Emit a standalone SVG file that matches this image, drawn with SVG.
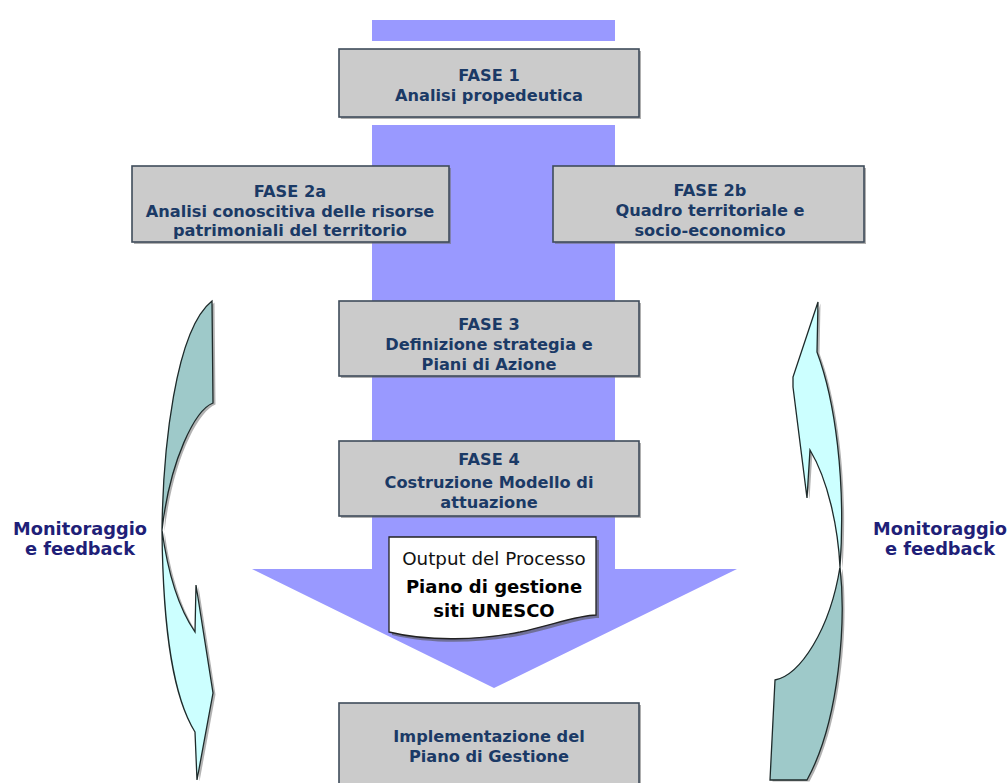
<svg xmlns="http://www.w3.org/2000/svg" width="1008" height="783" viewBox="0 0 1008 783">
<style>
.box{fill:#cbcbcb;stroke:#3f4c5a;stroke-width:1.6}
.sh{fill:#6d6d6d;opacity:.55}
.bt{font-family:"DejaVu Sans",Verdana,sans-serif;font-weight:bold;font-size:16.2px;fill:#1b3a66;text-anchor:middle}
.mon{font-family:"DejaVu Sans",Verdana,sans-serif;font-weight:bold;font-size:17.8px;fill:#1f1f78;text-anchor:middle}
.flow{fill:#9999ff}
.dark{fill:#9ec9c9;stroke:#1e2a2a;stroke-width:1.3}
.light{fill:#ccffff;stroke:#1e2a2a;stroke-width:1.3}
.ash{fill:#555;opacity:.45}
</style>
<rect width="1008" height="783" fill="#ffffff"/>
<g id="connectors">
  <rect class="flow" x="372" y="20" width="243" height="21"/>
  <path class="flow" d="M372,125 H615 V569 H737 L494,688 L252,569 H372 Z"/>
  <g id="loop-left">
    <path class="ash" transform="translate(2.5,1.5)" d="M212,301 L213,403 C195,410 170,460 162,530 C163,450 175,330 212,301 Z"/>
    <path class="ash" transform="translate(2.5,1.5)" d="M162,530 C168,575 180,610 195,632 L196,585 L213,693 L197,780 L195,732 C175,700 163,640 162,530 Z"/>
    <path class="dark" d="M212,301 L213,403 C195,410 170,460 162,530 C163,450 175,330 212,301 Z"/>
    <path class="light" d="M162,530 C168,575 180,610 195,632 L196,585 L213,693 L197,780 L195,732 C175,700 163,640 162,530 Z"/>
  </g>
  <g id="loop-right">
    <path class="ash" transform="translate(2.5,1.5)" d="M840,567 C846,620 840,720 807,780 L770,780 L775,680 C800,675 830,630 840,567 Z"/>
    <path class="ash" transform="translate(2.5,1.5)" d="M818,302 L817,352 C835,400 846,480 840,567 C838,527 828,480 810,450 L807,498 L793,387 L793,377 Z"/>
    <path class="dark" d="M840,567 C846,620 840,720 807,780 L770,780 L775,680 C800,675 830,630 840,567 Z"/>
    <path class="light" d="M818,302 L817,352 C835,400 846,480 840,567 C838,527 828,480 810,450 L807,498 L793,387 L793,377 Z"/>
  </g>
</g>
<g id="fase1">
  <rect class="sh" x="341" y="51" width="300" height="68"/>
  <rect class="box" x="339" y="49" width="300" height="68"/>
  <text class="bt" x="489" y="81">FASE 1</text>
  <text class="bt" x="489" y="101">Analisi propedeutica</text>
</g>
<g id="fase2a">
  <rect class="sh" x="134" y="168" width="317" height="76"/>
  <rect class="box" x="132" y="166" width="317" height="76"/>
  <text class="bt" x="290" y="197">FASE 2a</text>
  <text class="bt" x="290" y="217">Analisi conoscitiva delle risorse</text>
  <text class="bt" x="290" y="236">patrimoniali del territorio</text>
</g>
<g id="fase2b">
  <rect class="sh" x="555" y="168" width="311" height="76"/>
  <rect class="box" x="553" y="166" width="311" height="76"/>
  <text class="bt" x="710" y="196">FASE 2b</text>
  <text class="bt" x="710" y="216">Quadro territoriale e</text>
  <text class="bt" x="710" y="236">socio-economico</text>
</g>
<g id="fase3">
  <rect class="sh" x="341" y="303" width="300" height="75"/>
  <rect class="box" x="339" y="301" width="300" height="75"/>
  <text class="bt" x="489" y="330">FASE 3</text>
  <text class="bt" x="489" y="350">Definizione strategia e</text>
  <text class="bt" x="489" y="370">Piani di Azione</text>
</g>
<g id="fase4">
  <rect class="sh" x="341" y="443" width="300" height="75"/>
  <rect class="box" x="339" y="441" width="300" height="75"/>
  <text class="bt" x="489" y="465">FASE 4</text>
  <text class="bt" x="489" y="488">Costruzione Modello di</text>
  <text class="bt" x="489" y="508">attuazione</text>
</g>
<g id="output">
  <path fill="#555" opacity=".6" transform="translate(3,3)" d="M389,537 H596 V615 C580,615 555,624 520,632 C480,640 430,642 389,632 Z"/>
  <path fill="#ffffff" stroke="#222" stroke-width="1.3" d="M389,537 H596 V615 C580,615 555,624 520,632 C480,640 430,642 389,632 Z"/>
  <text x="494" y="565" font-family="DejaVu Sans,Verdana,sans-serif" font-size="18.3px" fill="#111" text-anchor="middle">Output del Processo</text>
  <text x="494" y="593" font-family="DejaVu Sans,Verdana,sans-serif" font-weight="bold" font-size="18px" fill="#000" text-anchor="middle">Piano di gestione</text>
  <text x="494" y="617" font-family="DejaVu Sans,Verdana,sans-serif" font-weight="bold" font-size="18px" fill="#000" text-anchor="middle">siti UNESCO</text>
</g>
<g id="implementazione">
  <rect class="sh" x="341" y="705" width="300" height="80"/>
  <rect class="box" x="339" y="703" width="300" height="82"/>
  <text class="bt" x="489" y="742">Implementazione del</text>
  <text class="bt" x="489" y="762">Piano di Gestione</text>
</g>
<g id="monitor-left">
  <text class="mon" x="80" y="535">Monitoraggio</text>
  <text class="mon" x="80" y="555">e feedback</text>
</g>
<g id="monitor-right">
  <text class="mon" x="940" y="535">Monitoraggio</text>
  <text class="mon" x="940" y="555">e feedback</text>
</g>
</svg>
